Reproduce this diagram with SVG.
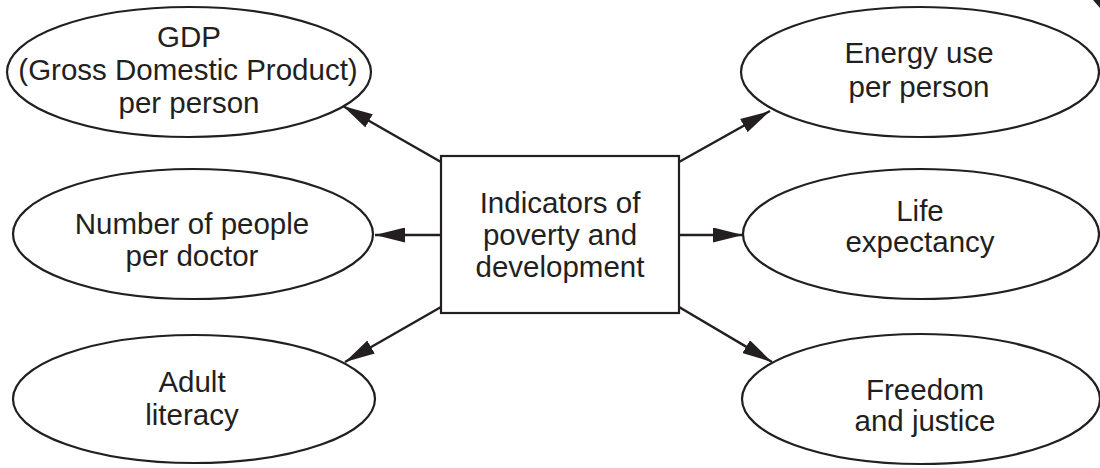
<svg xmlns="http://www.w3.org/2000/svg" width="1100" height="468" viewBox="0 0 1100 468">
  <style>
    .shape { fill: #ffffff; stroke: #231f20; stroke-width: 2.2; }
    .lbl { font-family: "Liberation Sans", Arial, Helvetica, sans-serif; font-size: 29.5px; fill: #231f20; text-anchor: middle; }
    .conn { stroke: #231f20; stroke-width: 2.4; fill: none; marker-end: url(#arrow); }
  </style>
  <defs>
    <marker id="arrow" markerUnits="userSpaceOnUse" markerWidth="30" markerHeight="15" refX="30" refY="7.5" orient="auto">
      <path d="M0,0 L30,7.5 L0,15 Z" fill="#231f20"/>
    </marker>
  </defs>
  <rect width="1100" height="468" fill="#ffffff"/>

  <g id="connectors">
    <line class="conn" x1="441" y1="162" x2="343" y2="106"/>
    <line class="conn" x1="441" y1="235" x2="375" y2="235"/>
    <line class="conn" x1="441" y1="307" x2="345" y2="362"/>
    <line class="conn" x1="679" y1="162" x2="770" y2="111"/>
    <line class="conn" x1="679" y1="235" x2="743" y2="235"/>
    <line class="conn" x1="679" y1="307" x2="772" y2="362"/>
  </g>

  <g id="center">
    <rect class="shape" x="441" y="156" width="238" height="157"/>
    <text class="lbl" x="560" y="213">Indicators of</text>
    <text class="lbl" x="560" y="245">poverty and</text>
    <text class="lbl" x="560" y="277">development</text>
  </g>

  <g id="gdp">
    <ellipse class="shape" cx="189" cy="72" rx="182" ry="65"/>
    <text class="lbl" x="189" y="47">GDP</text>
    <text class="lbl" x="188" y="80">(Gross Domestic Product)</text>
    <text class="lbl" x="189" y="113">per person</text>
  </g>

  <g id="doctor">
    <ellipse class="shape" cx="193" cy="234" rx="180" ry="65"/>
    <text class="lbl" x="192" y="234">Number of people</text>
    <text class="lbl" x="192" y="266">per doctor</text>
  </g>

  <g id="literacy">
    <ellipse class="shape" cx="194" cy="399" rx="181" ry="64"/>
    <text class="lbl" x="192" y="392">Adult</text>
    <text class="lbl" x="192" y="425">literacy</text>
  </g>

  <g id="energy">
    <ellipse class="shape" cx="920" cy="72" rx="179" ry="65"/>
    <text class="lbl" x="919" y="63">Energy use</text>
    <text class="lbl" x="919" y="97">per person</text>
  </g>

  <g id="life">
    <ellipse class="shape" cx="921" cy="234" rx="178" ry="65"/>
    <text class="lbl" x="920" y="221">Life</text>
    <text class="lbl" x="920" y="252">expectancy</text>
  </g>

  <g id="freedom">
    <ellipse class="shape" cx="921" cy="399" rx="179" ry="65"/>
    <text class="lbl" x="925" y="400">Freedom</text>
    <text class="lbl" x="925" y="431">and justice</text>
  </g>

  <path d="M1093,0 L1100,0 L1100,8 Z" fill="#231f20"/>
</svg>
